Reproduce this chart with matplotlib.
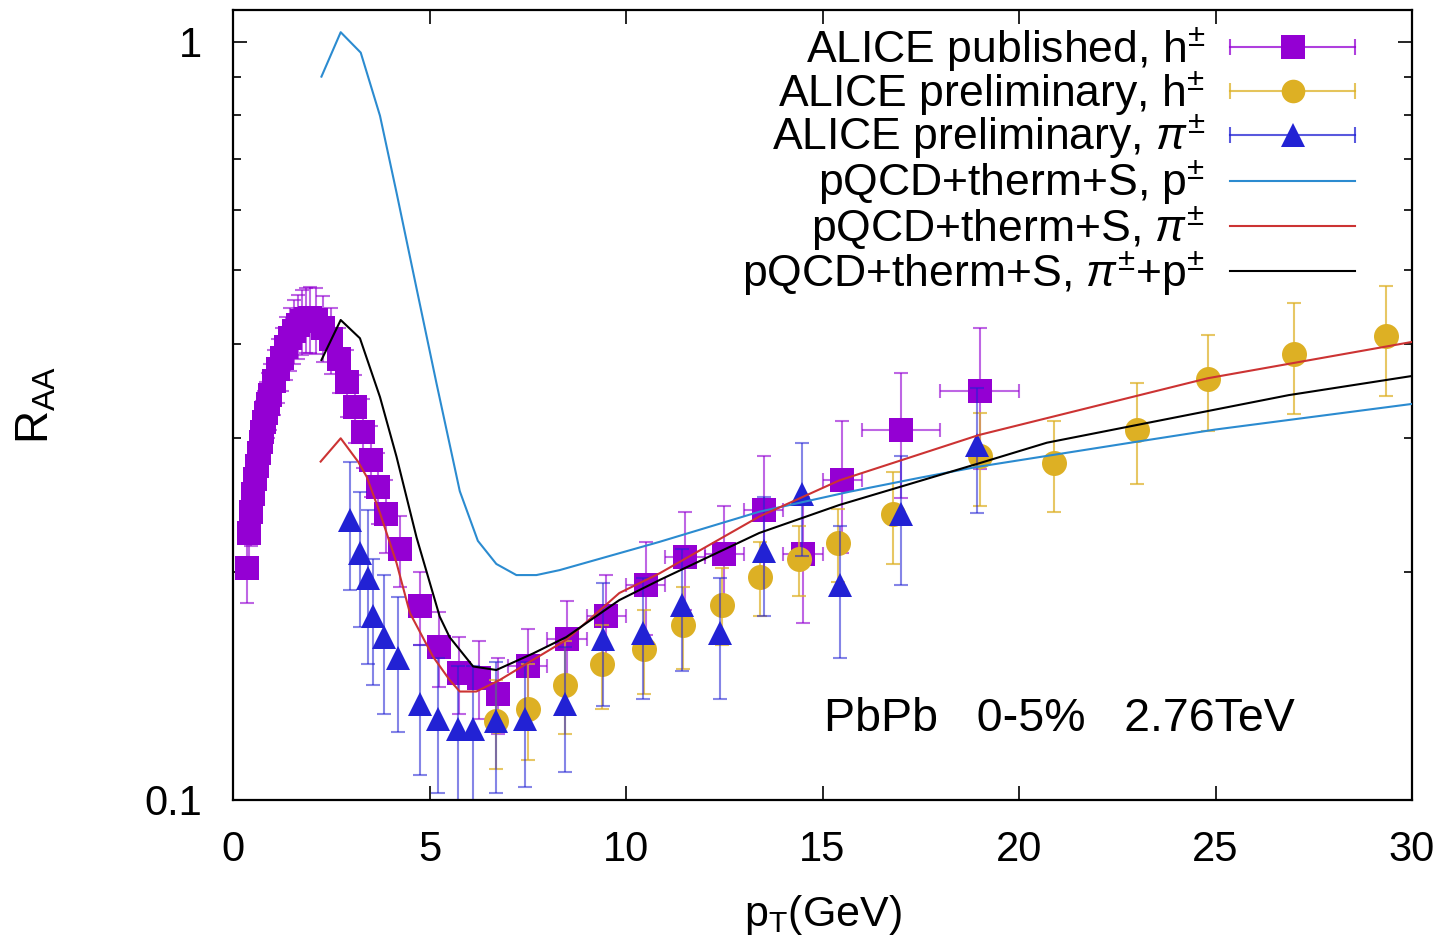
import numpy as np
import matplotlib
matplotlib.use("Agg")
import matplotlib.pyplot as plt
from matplotlib.colors import to_rgba
from matplotlib.ticker import FixedLocator, NullFormatter, NullLocator

plt.rcParams['font.family'] = ['Liberation Sans', 'DejaVu Sans']
plt.rcParams['mathtext.fontset'] = 'custom'
plt.rcParams['mathtext.rm'] = 'Liberation Sans'
plt.rcParams['mathtext.it'] = 'Liberation Sans:italic'
plt.rcParams['mathtext.sf'] = 'Liberation Sans'

# ALICE published, h+-
pub_pt = [0.35, 0.40, 0.45, 0.50, 0.55, 0.60, 0.65, 0.70, 0.75, 0.80, 0.85, 0.90, 0.95,
          1.05, 1.15, 1.25, 1.35, 1.45, 1.55, 1.65, 1.75, 1.85, 1.95,
          2.1, 2.3, 2.5, 2.7, 2.9, 3.1, 3.3, 3.5, 3.7, 3.9,
          4.25, 4.75, 5.25, 5.75, 6.25, 6.75,
          7.5, 8.5, 9.5, 10.5, 11.5, 12.5, 13.5, 14.5, 15.5, 17.0, 19.0]
pub_raa = [0.202, 0.225, 0.240, 0.253, 0.265, 0.276, 0.287, 0.297, 0.306, 0.315, 0.324, 0.333, 0.342,
           0.357, 0.370, 0.383, 0.396, 0.407, 0.416, 0.423, 0.428, 0.431, 0.432,
           0.430, 0.420, 0.405, 0.382, 0.356, 0.330, 0.306, 0.281, 0.259, 0.238,
           0.214, 0.180, 0.159, 0.147, 0.145, 0.138,
           0.150, 0.163, 0.175, 0.192, 0.209, 0.211, 0.241, 0.211, 0.264, 0.308, 0.346]
pub_err = [0.020, 0.022, 0.024, 0.025, 0.026, 0.027, 0.028, 0.029, 0.030, 0.031, 0.032, 0.033, 0.034,
           0.035, 0.036, 0.037, 0.038, 0.039, 0.040, 0.041, 0.042, 0.042, 0.043,
           0.043, 0.042, 0.040, 0.038, 0.036, 0.034, 0.032, 0.030, 0.028, 0.026,
           0.023, 0.020, 0.018, 0.017, 0.017, 0.016,
           0.018, 0.020, 0.023, 0.027, 0.031, 0.033, 0.043, 0.040, 0.052, 0.058, 0.073]
pub_xerr = [0.025, 0.025, 0.025, 0.025, 0.025, 0.025, 0.025, 0.025, 0.025, 0.025, 0.025, 0.025, 0.025,
            0.05, 0.05, 0.05, 0.05, 0.05, 0.05, 0.05, 0.05, 0.05, 0.05,
            0.1, 0.1, 0.1, 0.1, 0.1, 0.1, 0.1, 0.1, 0.1, 0.1,
            0.25, 0.25, 0.25, 0.25, 0.25, 0.25,
            0.5, 0.5, 0.5, 0.5, 0.5, 0.5, 0.5, 0.5, 0.5, 1.0, 1.0]

# ALICE preliminary, h+-
hpre_pt = [6.7, 7.5, 8.45, 9.4, 10.45, 11.45, 12.45, 13.4, 14.4, 15.4, 16.8, 19.0,
           20.9, 23.0, 24.8, 27.0, 29.35]
hpre_raa = [0.127, 0.132, 0.142, 0.151, 0.158, 0.170, 0.181, 0.197, 0.208, 0.218, 0.238, 0.284,
            0.278, 0.308, 0.359, 0.388, 0.409]
hpre_err = [0.017, 0.019, 0.020, 0.019, 0.020, 0.021, 0.021, 0.022, 0.022, 0.024, 0.033, 0.040,
            0.038, 0.047, 0.052, 0.065, 0.068]

# ALICE preliminary, pi+-
pipre_pt = [2.97, 3.23, 3.44, 3.57, 3.83, 4.20, 4.75, 5.22, 5.73, 6.11, 6.70, 7.42, 8.44,
            9.41, 10.43, 11.43, 12.40, 13.52, 14.49, 15.44, 16.99, 18.94]
pipre_raa = [0.234, 0.212, 0.196, 0.175, 0.164, 0.154, 0.134, 0.128, 0.124, 0.124, 0.127, 0.128, 0.134,
             0.163, 0.166, 0.181, 0.166, 0.213, 0.253, 0.192, 0.238, 0.294]
pipre_err = [0.045, 0.043, 0.045, 0.033, 0.034, 0.031, 0.026, 0.026, 0.026, 0.026, 0.025, 0.024, 0.025,
             0.030, 0.030, 0.033, 0.030, 0.038, 0.043, 0.038, 0.046, 0.055]

# pQCD+therm+S curves
p_pt = [2.25, 2.74, 3.25, 3.74, 4.16, 4.67, 5.18, 5.77, 6.23, 6.70, 7.21, 7.72, 8.31,
        10.85, 13.39, 15.68, 17.46, 18.93, 23.02, 24.98, 30.0]
p_raa = [0.90, 1.03, 0.968, 0.799, 0.633, 0.473, 0.354, 0.2555, 0.2197, 0.2048, 0.198, 0.198, 0.201,
         0.219, 0.240, 0.255, 0.266, 0.275, 0.297, 0.308, 0.333]

pi_pt = [2.23, 2.74, 3.18, 3.40, 3.74, 4.16, 4.50, 5.09, 5.51, 5.77, 6.19, 6.79, 7.63, 8.48,
         9.83, 10.85, 13.39, 15.43, 18.98, 24.80, 30.0]
pi_raa = [0.2795, 0.300, 0.2795, 0.267, 0.239, 0.2055, 0.1765, 0.1545, 0.144, 0.139, 0.139, 0.144,
          0.153, 0.1626, 0.1875, 0.199, 0.2365, 0.264, 0.303, 0.360, 0.402]

sum_pt = [2.25, 2.74, 3.23, 3.74, 4.16, 4.67, 5.26, 5.51, 6.11, 6.70, 7.63, 8.48, 9.83, 10.85,
          13.39, 15.43, 18.98, 20.71, 26.86, 30.0]
sum_raa = [0.3805, 0.4297, 0.4065, 0.340, 0.2837, 0.222, 0.1745, 0.164, 0.150, 0.1484, 0.156, 0.164,
           0.1835, 0.195, 0.225, 0.245, 0.278, 0.296, 0.342, 0.3625]

purple = '#9400d3'
gold = '#ddb024'
dblue = '#2222d4'
lblue = '#2b8bd0'
red = '#cc3333'

fig = plt.figure(figsize=(14.5, 9.4), dpi=100)
ax = fig.add_axes([0.1607, 0.149, 0.8131, 0.8404])

# data points
ax.errorbar(pub_pt, pub_raa, yerr=pub_err, xerr=pub_xerr, fmt='none',
            ecolor=to_rgba(purple, 0.6), elinewidth=1.5, capsize=5, capthick=1.5, zorder=2)
ax.plot(pub_pt, pub_raa, 's', color=purple, ms=17.5, mew=0, zorder=2.1)

ax.errorbar(hpre_pt, hpre_raa, yerr=hpre_err, fmt='none',
            ecolor=to_rgba(gold, 0.7), elinewidth=1.5, capsize=5, capthick=1.5, zorder=2.2)
ax.plot(hpre_pt, hpre_raa, 'o', color=gold, ms=18, mew=0, zorder=2.3)

ax.errorbar(pipre_pt, pipre_raa, yerr=pipre_err, fmt='none',
            ecolor=to_rgba(dblue, 0.55), elinewidth=1.5, capsize=5, capthick=1.5, zorder=2.4)
ax.plot(pipre_pt, pipre_raa, '^', color=dblue, ms=17, mew=0, zorder=2.5)

# model curves
ax.plot(p_pt, p_raa, color=lblue, lw=1.5, zorder=3)
ax.plot(pi_pt, pi_raa, color=red, lw=1.5, zorder=3)
ax.plot(sum_pt, sum_raa, color='black', lw=1.5, zorder=3)

ax.set_yscale('log')
ax.set_xlim(0, 30)
ax.set_ylim(0.1, 1.102)
ax.xaxis.set_major_locator(FixedLocator([0, 5, 10, 15, 20, 25, 30]))
ax.xaxis.set_minor_locator(NullLocator())
ax.yaxis.set_major_locator(FixedLocator([0.1, 1]))
ax.yaxis.set_minor_locator(FixedLocator([0.2, 0.3, 0.4, 0.5, 0.6, 0.7, 0.8, 0.9]))
ax.yaxis.set_minor_formatter(NullFormatter())
ax.set_yticklabels(['0.1', '1'])
ax.tick_params(which='both', direction='in', top=True, right=True, labelsize=30, width=1.2)
ax.tick_params(which='major', length=10, pad=22)
ax.tick_params(which='minor', length=6)
for s in ax.spines.values():
    s.set_linewidth(1.6)

ax.set_xlabel(r'p$_{\rm T}$(GeV)', fontsize=31, labelpad=16)
ax.set_ylabel(r'R$_{\rm AA}$', fontsize=33, labelpad=62)

ax.text(15.04, 0.1280, 'PbPb   0-5%   2.76TeV', fontsize=33.5, ha='left', va='center')

# legend drawn by hand (gnuplot style)
leg_labels = [r'ALICE published, h$^{\pm}$',
              r'ALICE preliminary, h$^{\pm}$',
              r'ALICE preliminary, $\pi^{\pm}$',
              r'pQCD+therm+S, p$^{\pm}$',
              r'pQCD+therm+S, $\pi^{\pm}$',
              r'pQCD+therm+S, $\pi^{\pm}$+p$^{\pm}$']
leg_colors = [purple, gold, dblue, lblue, red, 'black']
leg_markers = ['s', 'o', '^', None, None, None]
leg_y = [0.953, 0.897, 0.842, 0.784, 0.726, 0.669]
x_txt, x1, x2 = 0.8245, 0.8456, 0.9517
for lab, c, m, y in zip(leg_labels, leg_colors, leg_markers, leg_y):
    ax.text(x_txt, y - 0.02, lab, transform=ax.transAxes, fontsize=32,
            ha='right', va='baseline')
    if m is None:
        ax.plot([x1, x2], [y, y], color=c, lw=1.5, transform=ax.transAxes, clip_on=False)
    else:
        ax.plot([x1, x2], [y, y], color=to_rgba(c, 0.75), lw=1.5,
                transform=ax.transAxes, clip_on=False)
        ax.plot([x1, x2], [y, y], '|', color=to_rgba(c, 0.75), ms=12, mew=1.5,
                transform=ax.transAxes, clip_on=False)
        ax.plot([(x1 + x2) / 2], [y], m, color=c, ms=17, mew=0,
                transform=ax.transAxes, clip_on=False)

fig.savefig('out.png', dpi=100)
